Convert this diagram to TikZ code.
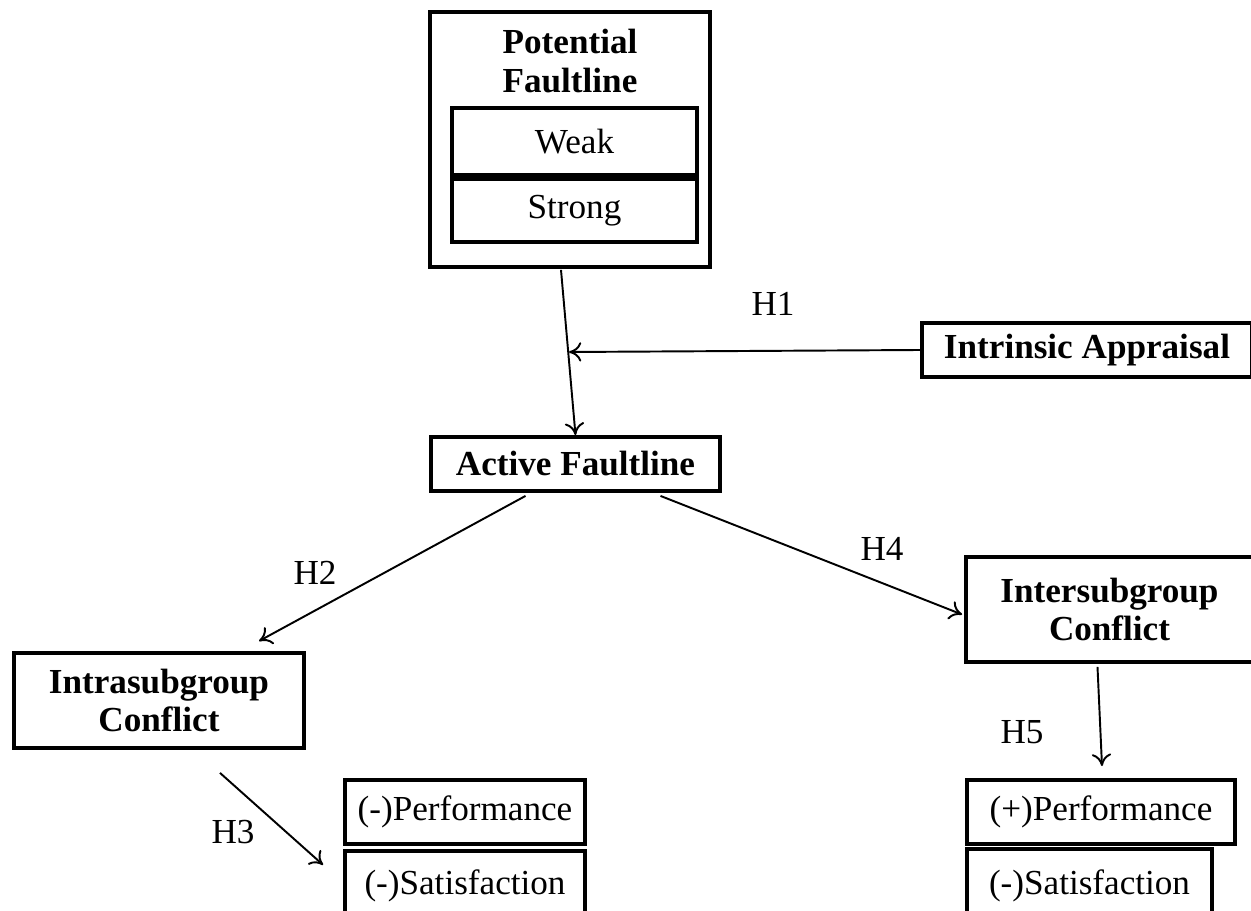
\documentclass[tikz,border=0pt]{standalone}
\usepackage{fontspec}
\setmainfont{Liberation Serif}
\usetikzlibrary{arrows.meta,calc}

\tikzset{
  box/.style={draw, line width=2.2pt, inner sep=0pt, align=center},
  title/.style={align=center, font=\fontsize{20}{22}\selectfont\bfseries},
  bbox/.style={box, title},
  item/.style={box, font=\fontsize{20}{22}\selectfont},
  hyp/.style={font=\fontsize{20}{22}\selectfont},
  link/.style={line width=1.1pt, -{To[length=7pt,width=11pt]}}
}

\begin{document}
\begin{tikzpicture}[x=0.02cm, y=-0.02cm]
  \useasboundingbox (0,0) rectangle (1251,911);

  % Define nodes
  \node[box, minimum width=5.6cm, minimum height=5.1cm] (pot) at (570,139.5) {};
  \node[title] (pottitle) at (570,61) {Potential\\Faultline};
  \node[item, minimum width=4.9cm, minimum height=1.34cm] (weak) at (574.5,141.5) {Weak};
  \node[item, minimum width=4.9cm, minimum height=1.26cm] (strong) at (574.5,210.5) {Strong};
  \node[bbox, minimum width=6.6cm, minimum height=1.08cm] (intr) at (1087,350) {Intrinsic Appraisal};
  \node[bbox, minimum width=5.78cm, minimum height=1.08cm] (act) at (575.5,464) {Active Faultline};
  \node[bbox, minimum width=5.8cm, minimum height=1.9cm] (intra) at (159,700.5) {Intrasubgroup\\Conflict};
  \node[bbox, minimum width=5.74cm, minimum height=2.1cm] (inter) at (1109.5,609.5) {Intersubgroup\\Conflict};
  \node[item, minimum width=4.8cm, minimum height=1.28cm] (lperf) at (465,812) {(-)Performance};
  \node[item, minimum width=4.8cm, minimum height=1.38cm] (lsat) at (465,885.5) {(-)Satisfaction};
  \node[item, minimum width=5.36cm, minimum height=1.28cm] (rperf) at (1101,812) {(+)Performance};
  \node[item, minimum width=4.9cm, minimum height=1.46cm] (rsat) at (1089.5,885.5) {(-)Satisfaction};
  \coordinate (joint) at (569,352);

  % Hypothesis labels
  \node[hyp] (h1) at (773,304) {H1};
  \node[hyp] (h2) at (315,573) {H2};
  \node[hyp] (h3) at (233,832) {H3};
  \node[hyp] (h4) at (882,549) {H4};
  \node[hyp] (h5) at (1022,732) {H5};

  % Connect the nodes
  \draw[link] ($(pot.south)+(-9,1)$) -- (act.north);
  \draw[link] (intr.west) -- (joint);
  \draw[link] ($(act.south)+(-50,3)$) -- ($(intra.north)+(100,-10)$);
  \draw[link] ($(act.south)+(85,3)$) -- ($(inter.west)+(-2,5)$);
  \draw[link] ($(intra.south)+(61,23)$) -- ($(lperf.south west)+(-20,19)$);
  \draw[link] ($(inter.south)+(-12,3)$) -- ($(rperf.north)+(1,-12)$);

\end{tikzpicture}
\end{document}
